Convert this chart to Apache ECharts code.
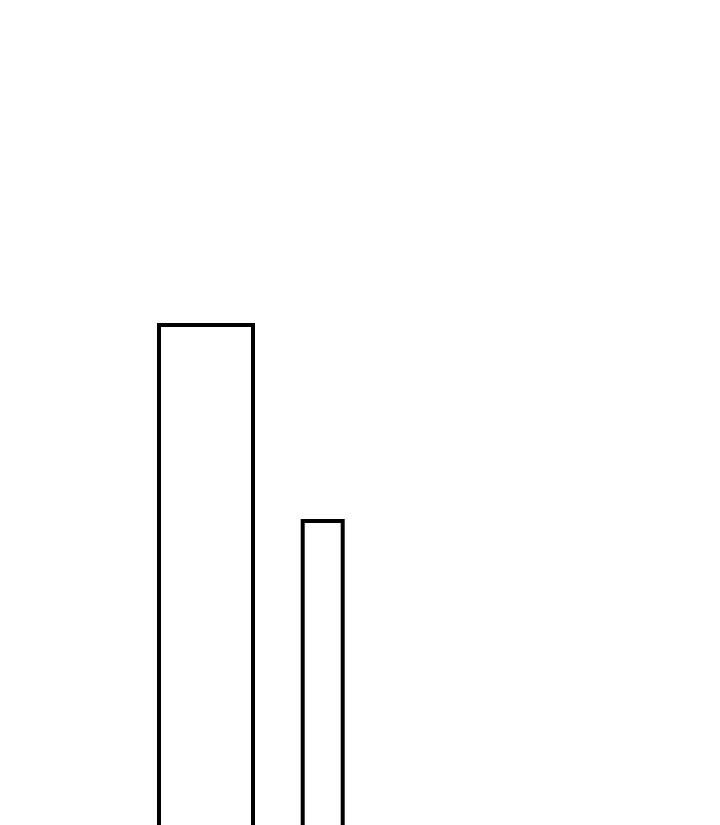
<!DOCTYPE html>
<html>
<head>
<meta charset="utf-8">
<script src="https://cdn.jsdelivr.net/npm/echarts@6/dist/echarts.min.js"></script>
<style>
  html, body { margin: 0; padding: 0; background: #fff; }
  #chart { width: 720px; height: 825px; }
</style>
</head>
<body>
<div id="chart"></div>
<script>
// bar extents along x and their heights
const barLefts = [159, 302.7];
const barRights = [253, 342.7];
const barValues = [70, 50.4];

const chart = echarts.init(document.getElementById('chart'));

const data = barValues.map((v, i) => [barLefts[i], barRights[i], v]);

chart.setOption({
  animation: false,
  backgroundColor: '#fff',
  grid: { left: 0, top: 25, right: 0, bottom: 0 },
  xAxis: { type: 'value', min: 0, max: 720, show: false },
  // the baseline (0) sits below the visible area, so bars run off the bottom
  yAxis: { type: 'value', min: 20, max: 100, show: false },
  series: [{
    type: 'custom',
    clip: false,
    data: data,
    renderItem: (params, api) => {
      const p0 = api.coord([api.value(0), api.value(2)]);
      const p1 = api.coord([api.value(1), 0]);
      return {
        type: 'rect',
        shape: { x: p0[0], y: p0[1], width: p1[0] - p0[0], height: p1[1] - p0[1] },
        style: { fill: '#fff', stroke: '#000', lineWidth: 4 }
      };
    }
  }]
});
</script>
</body>
</html>
